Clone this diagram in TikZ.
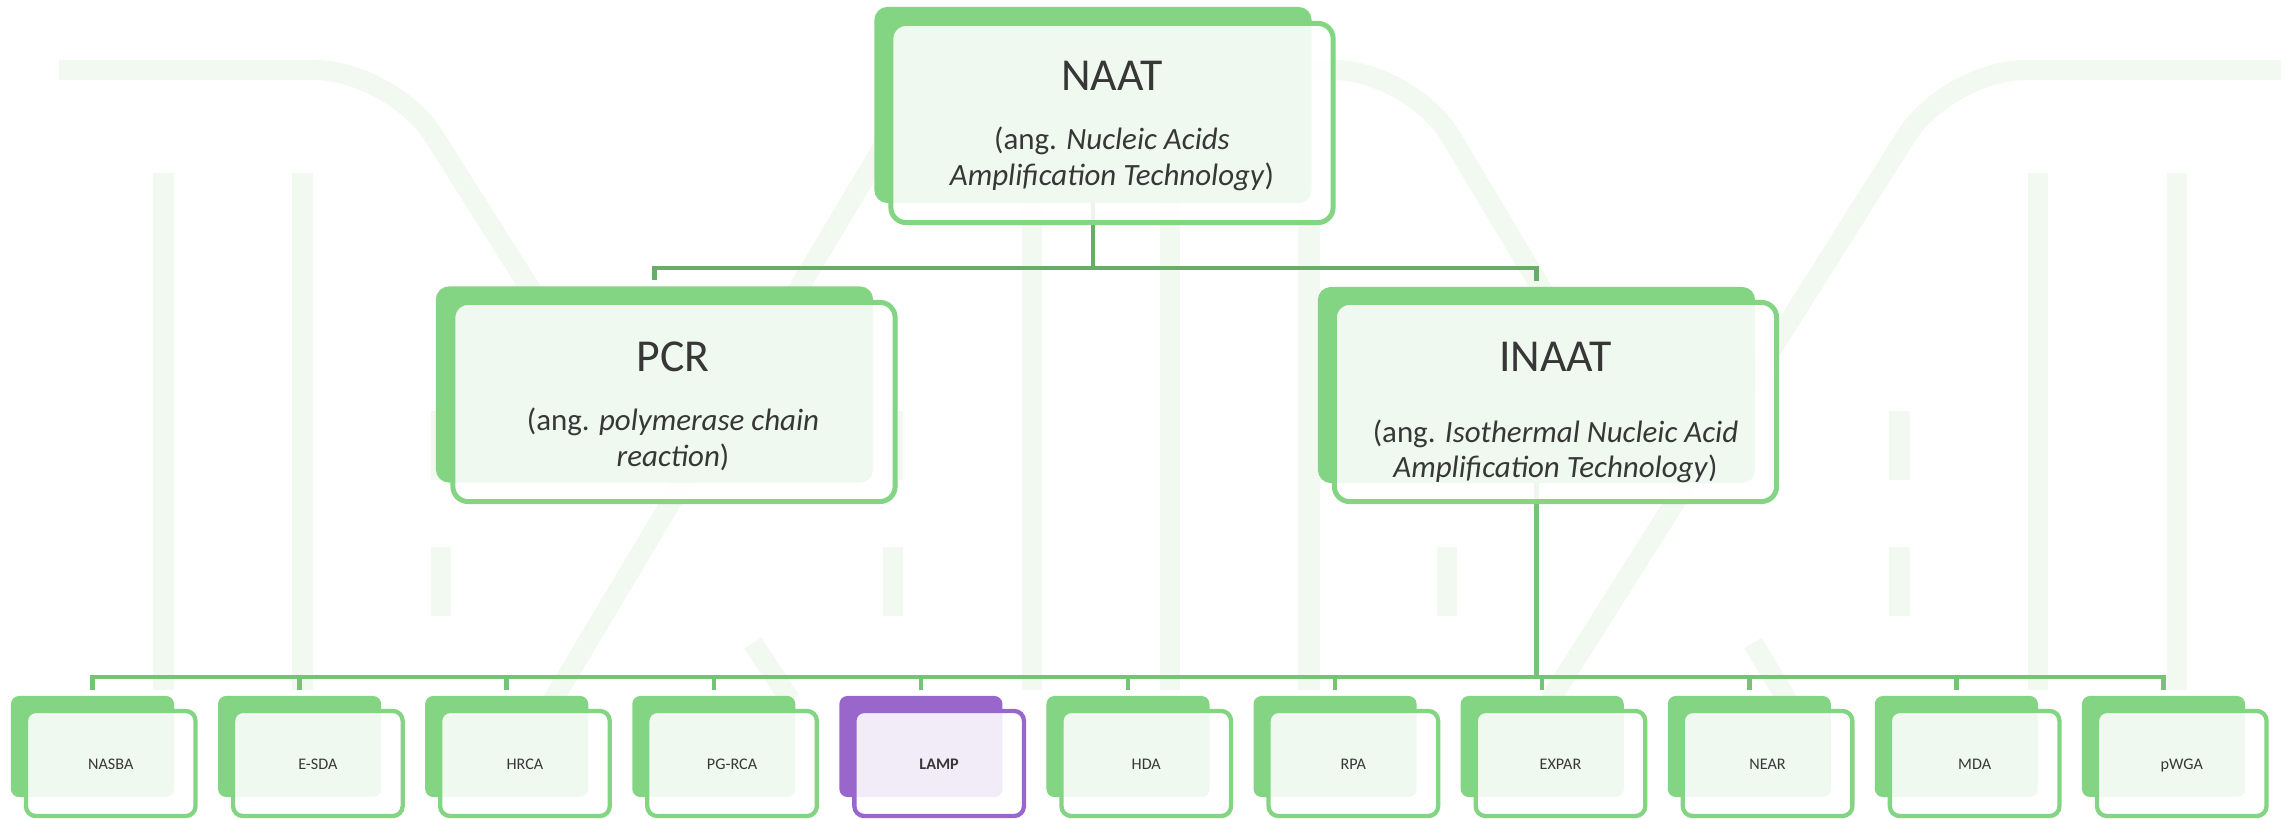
\documentclass[tikz,border=0pt]{standalone}
\usepackage{fontspec}
\setmainfont{Carlito}

\definecolor{boxgreen}{RGB}{131,213,131}
\definecolor{linkgreen}{RGB}{104,172,104}
\definecolor{buslink}{RGB}{118,194,118}
\definecolor{lampviolet}{RGB}{153,102,204}
\definecolor{markgreen}{RGB}{241,249,241}
\definecolor{ink}{RGB}{55,55,55}

\tikzset{
  backbig/.style={rectangle, fill=boxgreen, rounded corners=3.7pt,
    minimum width=4.37cm, minimum height=1.96cm, inner sep=0pt, outer sep=0pt},
  frontbig/.style={rectangle, draw=boxgreen, line width=1.42pt, fill=white,
    fill opacity=0.88, rounded corners=4.3pt,
    minimum width=4.42cm, minimum height=1.99cm, inner sep=0pt, outer sep=0pt},
  backsmall/.style={rectangle, fill=#1, rounded corners=2.3pt,
    minimum width=1.63cm, minimum height=1.01cm, inner sep=0pt, outer sep=0pt},
  frontsmall/.style={rectangle, draw=#1, line width=1.22pt, fill=white,
    fill opacity=0.88, rounded corners=2.8pt,
    minimum width=1.695cm, minimum height=1.05cm, inner sep=0pt, outer sep=0pt},
  titletext/.style={font=\fontsize{13pt}{15pt}\selectfont, text=ink, anchor=base, inner sep=0pt},
  subtext/.style={font=\fontsize{8.8pt}{10pt}\selectfont, text=ink, anchor=base, inner sep=0pt},
  leaftext/.style={font=\fontsize{4.6pt}{5.5pt}\selectfont, text=ink, anchor=base, inner sep=0pt},
  toplink/.style={draw=linkgreen, line width=1.28pt},
  lowlink/.style={draw=buslink, line width=1.28pt},
  markline/.style={draw=markgreen, line width=5.7pt, rounded corners=22pt},
}

\begin{document}
\begin{tikzpicture}[x=0.01cm, y=-0.01cm]
\fill[white] (0,0) rectangle (2287,819);
\useasboundingbox (0,0) rectangle (2287,819);

% faint logo in the background
\fill[markgreen] (153,173) rectangle (174,690);
\fill[markgreen] (292,173) rectangle (313,690);
\fill[markgreen] (431,411) rectangle (451,480);
\fill[markgreen] (431,547) rectangle (451,616);
\fill[markgreen] (883,411) rectangle (903,480);
\fill[markgreen] (883,547) rectangle (903,616);
\fill[markgreen] (1022,200) rectangle (1042,690);
\fill[markgreen] (1160,200) rectangle (1180,690);
\fill[markgreen] (1298,200) rectangle (1320,690);
\fill[markgreen] (1437,411) rectangle (1457,480);
\fill[markgreen] (1437,547) rectangle (1457,616);
\fill[markgreen] (1889,411) rectangle (1910,480);
\fill[markgreen] (1889,547) rectangle (1910,616);
\fill[markgreen] (2028,173) rectangle (2048,690);
\fill[markgreen] (2167,173) rectangle (2187,690);
\draw[markline] (59,70) -- (392,70) -- (645,470);
\draw[markline] (753,643) -- (790,700);
\draw[markline] (553,700) -- (929,70) -- (1411,70) -- (1650,470);
\draw[markline] (1753,643) -- (1787,700);
\draw[markline] (2281,70) -- (1948,70) -- (1550,700);

% bus coordinates
\coordinate (busTop) at (0,268);
\coordinate (busLow) at (0,677);

% back plates of the upper levels
\node[backbig] (naatB) at (1093,105) {};
\node[backbig] (pcrB) at (654.5,384.5) {};
\node[backbig] (inaatB) at (1536.5,385) {};

% back plates of the method row
\foreach \lab [count=\i from 0] in {NASBA,E-SDA,HRCA,PG-RCA,LAMP,HDA,RPA,EXPAR,NEAR,MDA,pWGA}{
  \pgfmathsetmacro{\xx}{11+207.1*\i}
  \ifnum\i=4
    \node[backsmall=lampviolet] (leafB\i) at (\xx+81.5,746.5) {};
  \else
    \node[backsmall=boxgreen] (leafB\i) at (\xx+81.5,746.5) {};
  \fi
}

% connectors
\draw[toplink] (naatB.south) -- (naatB.south |- busTop);
\draw[toplink] ([yshift=1.7pt]pcrB.north) |- (busTop -| inaatB.north) -- ([yshift=1.7pt]inaatB.north);
\draw[lowlink] (inaatB.south) -- (inaatB.south |- busLow);
\draw[lowlink] ([yshift=1.7pt]leafB0.north) |- (busLow -| leafB10.north) -- ([yshift=1.7pt]leafB10.north);
\foreach \i in {1,...,9}{
  \draw[lowlink] (leafB\i.north |- busLow) -- ([yshift=1.7pt]leafB\i.north);
}

% front cards of the upper levels
\node[frontbig] (naat) at (1112,123) {};
\node[frontbig] (pcr) at (674,402) {};
\node[frontbig] (inaat) at (1555.5,402) {};

\node[titletext] (naatT) at (1112,91) {NAAT};
\node[subtext] (naatS1) at (1112,150) {(ang. \textit{Nucleic Acids}};
\node[subtext] (naatS2) at (1112,186) {\textit{Amplification Technology})};

\node[titletext] (pcrT) at (673,372) {PCR};
\node[subtext] (pcrS1) at (673,431) {(ang. \textit{polymerase chain}};
\node[subtext] (pcrS2) at (673,467) {\textit{reaction})};

\node[titletext] (inaatT) at (1555.5,372) {INAAT};
\node[subtext] (inaatS1) at (1555.5,443) {(ang. \textit{Isothermal Nucleic Acid}};
\node[subtext] (inaatS2) at (1555.5,478) {\textit{Amplification Technology})};

% front cards of the method row
\foreach \lab [count=\i from 0] in {NASBA,E-SDA,HRCA,PG-RCA,LAMP,HDA,RPA,EXPAR,NEAR,MDA,pWGA}{
  \pgfmathsetmacro{\xx}{11+207.1*\i}
  \ifnum\i=4
    \node[frontsmall=lampviolet] (leaf\i) at (\xx+99.75,763.5) {};
    \node[leaftext] (leafT\i) at (\xx+99.75,770) {\textbf{\lab}};
  \else
    \node[frontsmall=boxgreen] (leaf\i) at (\xx+99.75,763.5) {};
    \node[leaftext] (leafT\i) at (\xx+99.75,770) {\lab};
  \fi
}
\end{tikzpicture}
\end{document}
